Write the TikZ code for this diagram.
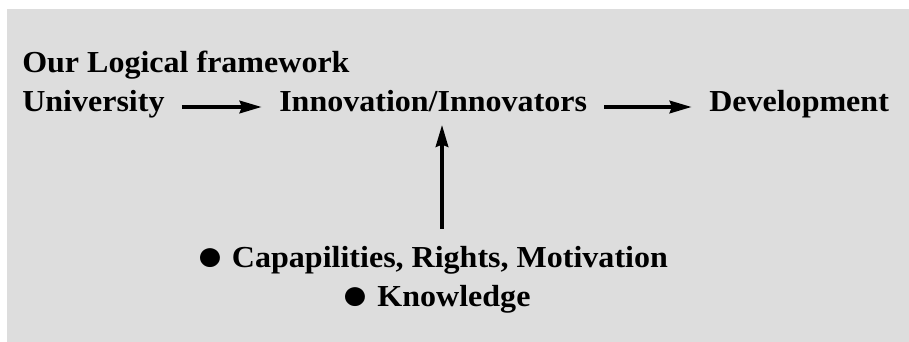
\documentclass[tikz,border=0pt]{standalone}
\usepackage{fontspec}
\setmainfont{Liberation Serif}[FakeStretch=1.05]
\usepackage{tikz}
\usetikzlibrary{arrows.meta}
\definecolor{bggray}{HTML}{DDDDDD}
\newcommand{\bigdot}{\raisebox{-3pt}{\fontsize{44}{36}\selectfont ●}}
\tikzset{txt/.style={font=\fontsize{30.5}{36}\selectfont\bfseries, inner sep=0pt}}
\begin{document}
\begin{tikzpicture}[x=1pt, y=-1pt, >={Stealth[length=22pt, width=12pt, inset=2pt]}, line width=4.5pt, shorten >=15pt, shorten <=15pt]
\useasboundingbox (0,0) rectangle (909,342);
\fill [bggray] (7,9) rectangle (909,342);
\node [txt, anchor=base west] (Fw) at (20,73) {Our Logical framework};
\node [txt, anchor=base west] (Uni) at (20,112) {University};
\node [txt, anchor=base west] (Inn) at (277,112) {Innovation/Innovators};
\node [txt, anchor=base west] (Dev) at (707,112) {Development};
\node [txt, anchor=base] (Cap) at (432,267) {\bigdot{} Capapilities, Rights, Motivation};
\node [txt, anchor=base] (Kn) at (436,306) {\bigdot{} Knowledge};
\draw [->] ([yshift=5pt]Uni.base east) -- ([yshift=5pt]Inn.base west);
\draw [->] ([yshift=5pt]Inn.base east) -- ([yshift=5pt]Dev.base west);
\draw [->, shorten >=10pt] ([xshift=10pt]Cap.north) -- ([xshift=10pt]Cap.north |- Inn.south);
\end{tikzpicture}
\end{document}
